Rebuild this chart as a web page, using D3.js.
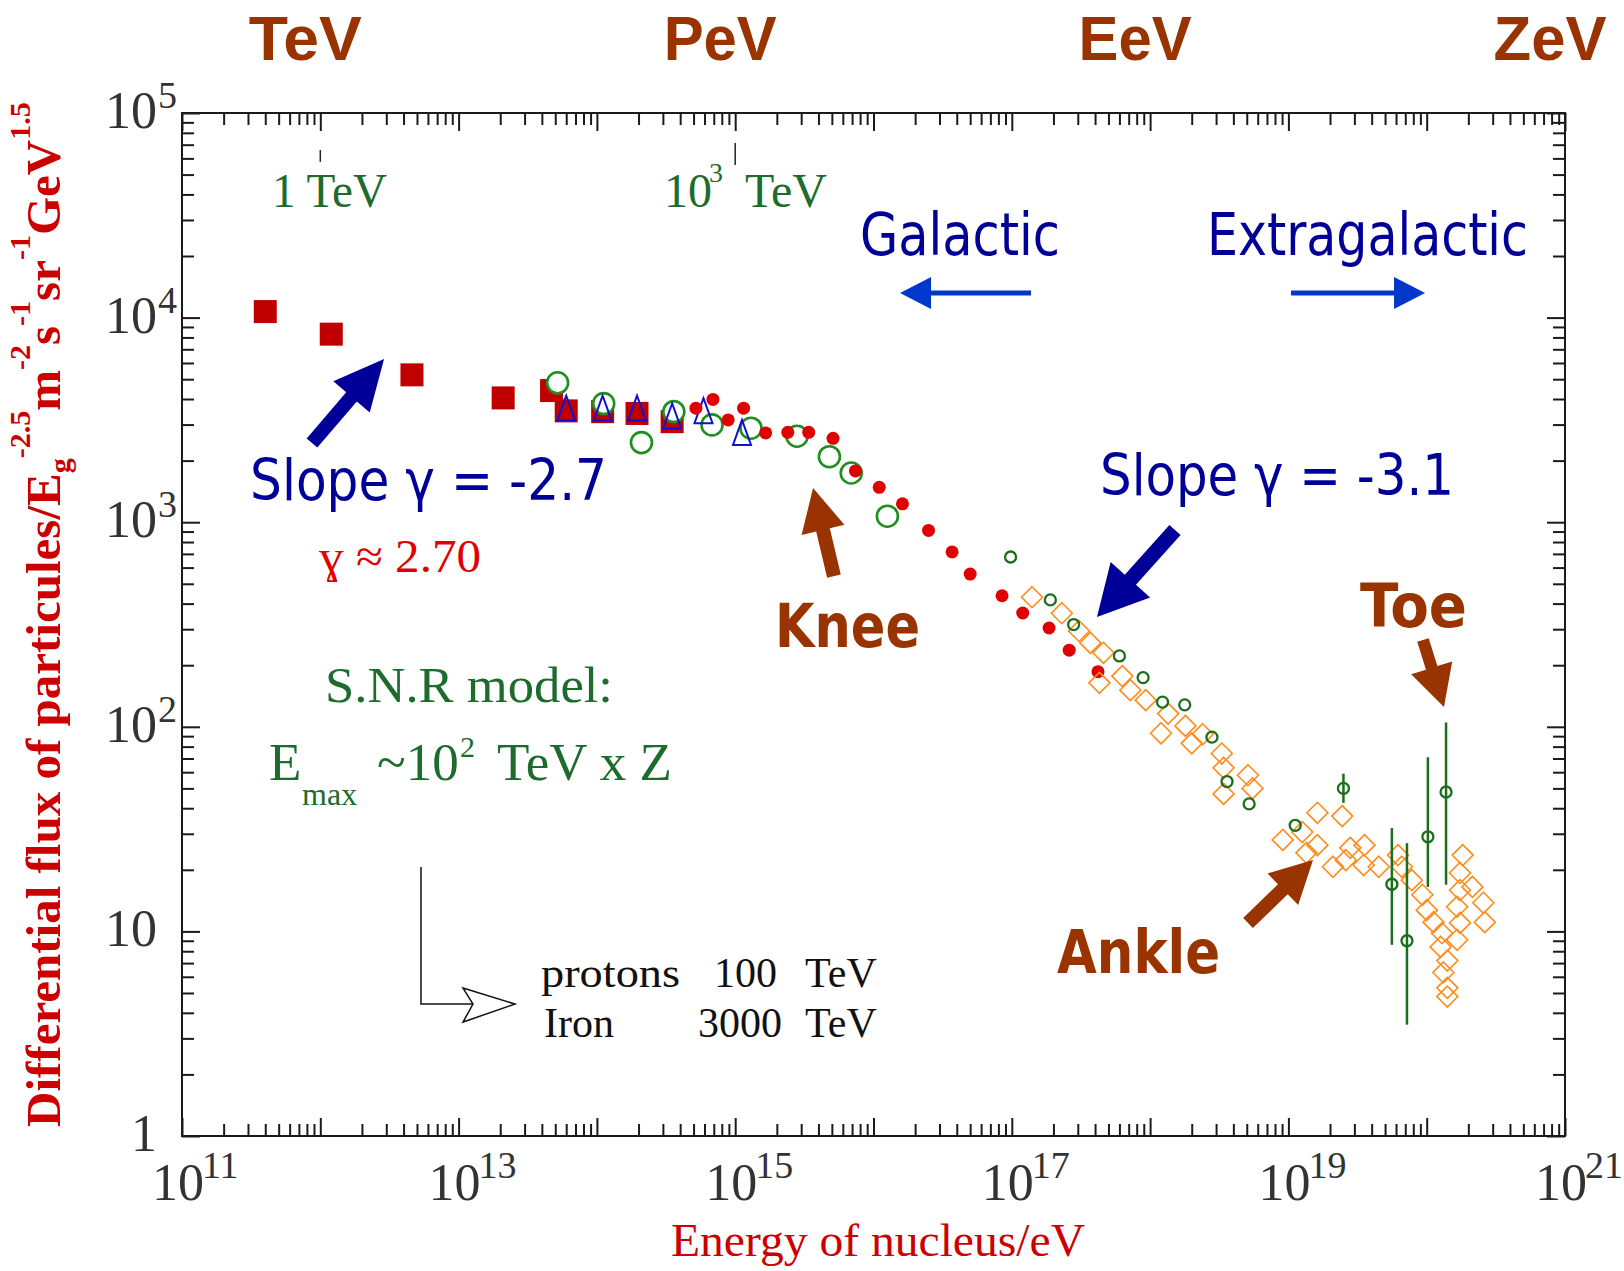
<!DOCTYPE html>
<html>
<head>
<meta charset="utf-8">
<script src="https://cdn.jsdelivr.net/npm/d3@7"></script>
<style>
  body { margin: 0; background: #fff; }
</style>
</head>
<body>
<div id="chart"></div>
<script>
// energies in eV, flux in E^2.5 dN/dE units
const squareE = [4.0e11, 1.2e12, 4.6e12, 2.1e13, 4.7e13, 6.0e13, 1.1e14, 1.95e14, 3.5e14];
const squareF = [10700, 8300, 5250, 4050, 4400, 3500, 3470, 3400, 3100];

const triE = [6.0e13, 1.1e14, 1.95e14, 3.5e14, 5.9e14, 1.12e15];
const triF = [3550, 3550, 3550, 3250, 3450, 2700];

const bigCircE = [5.2e13, 1.12e14, 2.1e14, 3.6e14, 6.8e14, 1.3e15, 2.8e15, 4.8e15, 6.9e15, 1.26e16];
const bigCircF = [4800, 3800, 2450, 3470, 2990, 2880, 2630, 2090, 1740, 1070];

const dotE = [5.2e14, 6.9e14, 8.9e14, 1.15e15, 1.66e15, 2.4e15, 3.4e15, 5.1e15, 7.4e15, 1.1e16,
              1.62e16, 2.5e16, 3.7e16, 5.0e16, 8.5e16, 1.2e17, 1.86e17, 2.6e17, 4.2e17];
const dotF = [3610, 3980, 3160, 3610, 2730, 2750, 2750, 2570, 1780, 1480,
              1230, 912, 716, 558, 437, 360, 304, 237, 186];

const smallCircE = [9.8e16, 1.9e17, 2.8e17, 6.0e17, 8.9e17, 1.23e18, 1.78e18, 2.8e18, 3.6e18, 5.2e18, 1.12e19];
const smallCircF = [676, 417, 316, 222, 174, 132, 128, 89, 54, 42, 33];

const errE  = [2.5e19, 5.6e19, 7.2e19, 1.02e20, 1.38e20];
const errF  = [50, 17, 9.0, 29, 48];
const errLo = [42.5, 8.6, 3.5, 16.5, 16.9];
const errHi = [59, 32, 27, 71, 105];

const diamondE = [1.4e17, 2.3e17, 3.06e17, 3.7e17, 4.6e17, 4.3e17, 6.3e17, 7.2e17, 9.3e17, 1.2e18,
                  1.35e18, 1.8e18, 2.0e18, 2.4e18, 3.3e18, 3.4e18, 3.4e18, 5.1e18, 5.5e18, 9.1e18,
                  1.26e19, 1.35e19, 1.62e19, 1.62e19, 2.1e19, 2.45e19, 2.6e19, 2.8e19, 3.5e19, 3.55e19,
                  4.5e19, 6.2e19, 6.6e19, 7.8e19, 9.3e19, 1.0e20, 1.12e20, 1.29e20, 1.26e20, 1.41e20,
                  1.32e20, 1.41e20, 1.41e20, 1.82e20, 1.74e20, 1.74e20, 1.66e20, 1.74e20, 1.66e20, 2.14e20,
                  2.57e20, 2.63e20];
const diamondF = [430, 359, 294, 257, 230, 164, 177, 151, 135, 93,
                  116, 101, 83, 92, 74, 63, 47, 58, 50, 28,
                  30.6, 24.2, 38, 26.4, 20.7, 36.6, 22.3, 25.6, 21.1, 26.4,
                  20.7, 23.6, 20.7, 17.8, 15.1, 12.7, 11.1, 9.8, 8.4, 7.2,
                  6.3, 5.3, 4.8, 23.6, 19.3, 15.9, 13.2, 11.0, 9.1, 16.5,
                  13.8, 11.1];

const xLabelExps = [11, 13, 15, 17, 19, 21];
const yLabelExps = [0, 1, 2, 3, 4, 5];
const unitNames = ['TeV', 'PeV', 'EeV', 'ZeV'];
const unitE = [1e12, 1e15, 1e18, 1e21];

const W = 1624, H = 1271;
const margin = {left: 182, right: 59, top: 113, bottom: 135};
const serif = "'Liberation Serif', 'Times New Roman', serif";
const sans = "'DejaVu Sans Condensed', 'DejaVu Sans', sans-serif";
const sansB = "'Liberation Sans', Arial, sans-serif";
const brown = '#993300', navy = '#000099', green = '#1d6b2d', red = '#cc0000';

const svg = d3.select('#chart').append('svg').attr('width', W).attr('height', H);

const x = d3.scaleLog().domain([1e11, 1e21]).range([margin.left, W - margin.right]);
const y = d3.scaleLog().domain([1, 1e5]).range([H - margin.bottom, margin.top]);
const px = l => x(Math.pow(10, l));
const py = l => y(Math.pow(10, l));

// ticks: majors every decade, minors 2..9
const majX = d3.range(11, 22).map(e => Math.pow(10, e));
const minX = [];
d3.range(11, 21).forEach(e => { for (let k = 2; k < 10; k++) minX.push(k * Math.pow(10, e)); });
const majY = d3.range(0, 6).map(e => Math.pow(10, e));
const minY = [];
d3.range(0, 5).forEach(e => { for (let k = 2; k < 10; k++) minY.push(k * Math.pow(10, e)); });

function ticks(axisFn, scale, vals, size, tr) {
  svg.append('g').attr('transform', tr)
    .call(axisFn(scale).tickValues(vals).tickSize(size).tickFormat(''))
    .call(g => g.select('.domain').remove())
    .selectAll('line').attr('stroke', '#1a1a1a').attr('stroke-width', 2);
}
const bottomY = H - margin.bottom, rightX = W - margin.right;
ticks(d3.axisTop, x, majX, 18, `translate(0,${bottomY})`);
ticks(d3.axisTop, x, minX, 12, `translate(0,${bottomY})`);
ticks(d3.axisBottom, x, majX, 18, `translate(0,${margin.top})`);
ticks(d3.axisBottom, x, minX, 12, `translate(0,${margin.top})`);
ticks(d3.axisRight, y, majY, 18, `translate(${margin.left},0)`);
ticks(d3.axisRight, y, minY, 12, `translate(${margin.left},0)`);
ticks(d3.axisLeft, y, majY, 18, `translate(${rightX},0)`);
ticks(d3.axisLeft, y, minY, 12, `translate(${rightX},0)`);

svg.append('rect')
  .attr('x', margin.left).attr('y', margin.top)
  .attr('width', rightX - margin.left).attr('height', bottomY - margin.top)
  .attr('fill', 'none').attr('stroke', '#1a1a1a').attr('stroke-width', 2);

function txt(xp, yp, s, size, color, o = {}) {
  const t = svg.append('text').attr('x', xp).attr('y', yp).text(s)
    .attr('font-size', size).attr('fill', color)
    .attr('font-family', o.family || serif)
    .attr('font-weight', o.weight || 'normal')
    .attr('text-anchor', o.anchor || 'start');
  if (o.len) t.attr('textLength', o.len).attr('lengthAdjust', 'spacingAndGlyphs');
  return t;
}
// text made of pieces [string, dx-position or null, dy, size]
function rich(xp, yp, parts, color, o = {}) {
  const t = svg.append('text').attr('x', xp).attr('y', yp)
    .attr('fill', color).attr('font-family', o.family || serif)
    .attr('font-weight', o.weight || 'normal');
  parts.forEach(p => {
    const s = t.append('tspan').text(p[0]).attr('dy', p[2]).attr('font-size', p[3]);
    if (p[1] !== null) s.attr('x', p[1]);
  });
  return t;
}

// axis tick labels
const tickGrey = '#333';
xLabelExps.forEach(e => {
  const xp = x(Math.pow(10, e));
  rich(xp - 30, bottomY + 64, [['10', null, 0, 52], [String(e), xp + 20, -22, 38]], tickGrey);
});
yLabelExps.forEach(e => {
  const yp = y(Math.pow(10, e)) + 15;
  if (e === 0) txt(157, yp, '1', 52, tickGrey, {anchor: 'end'});
  else if (e === 1) txt(157, yp, '10', 52, tickGrey, {anchor: 'end'});
  else rich(105, yp, [['10', null, 0, 52], [String(e), 158, -20, 38]], tickGrey);
});

// energy units on top
unitNames.forEach((n, i) => {
  txt(x(unitE[i]) - 15, 60, n, 63, brown, {family: sansB, weight: 'bold', anchor: 'middle', len: 113});
});

// axis titles
txt(878, 1256, 'Energy of nucleus/eV', 46, red, {anchor: 'middle', len: 414});
const yt = svg.append('text').attr('transform', `translate(60,${bottomY - 9}) rotate(-90)`)
  .attr('font-family', serif).attr('font-weight', 'bold').attr('fill', red);
[['Differential flux of particules/E', 0, 49], ['g', 10, 30], ['-2.5', -40, 30], ['m', 30, 49],
 ['-2', -30, 30], ['s', 30, 49], ['-1', -30, 30], ['sr', 30, 49], ['-1', -30, 30],
 ['GeV', 30, 49], ['1.5', -30, 30]].forEach(p => {
  yt.append('tspan').attr('dy', p[1]).attr('font-size', p[2]).text(p[0]);
});

// data marks
const plot = svg.append('g');
plot.selectAll('.sq').data(squareE).join('rect')
  .attr('x', (d, i) => x(d) - 11.5).attr('y', (d, i) => y(squareF[i]) - 11.5)
  .attr('width', 23).attr('height', 23).attr('fill', '#c00000');
plot.selectAll('.bc').data(bigCircE).join('circle')
  .attr('cx', d => x(d)).attr('cy', (d, i) => y(bigCircF[i])).attr('r', 10.5)
  .attr('fill', '#fff').attr('stroke', '#1f8f1f').attr('stroke-width', 2.6);
plot.selectAll('.tr').data(triE).join('path')
  .attr('d', (d, i) => {
    const cx = x(d), cy = y(triF[i]);
    return `M${cx},${cy - 14}L${cx - 9},${cy + 11}L${cx + 9},${cy + 11}Z`;
  })
  .attr('fill', 'none').attr('stroke', '#1010d0').attr('stroke-width', 2);
plot.selectAll('.dt').data(dotE).join('circle')
  .attr('cx', d => x(d)).attr('cy', (d, i) => y(dotF[i])).attr('r', 6.5).attr('fill', '#e00000');
plot.selectAll('.dm').data(diamondE).join('path')
  .attr('d', (d, i) => {
    const cx = x(d), cy = y(diamondF[i]), r = 10.5;
    return `M${cx},${cy - r}L${cx + r},${cy}L${cx},${cy + r}L${cx - r},${cy}Z`;
  })
  .attr('fill', 'none').attr('stroke', '#ff8c1a').attr('stroke-width', 1.6);
plot.selectAll('.eb').data(errE).join('line')
  .attr('x1', d => x(d)).attr('x2', d => x(d))
  .attr('y1', (d, i) => y(errHi[i])).attr('y2', (d, i) => y(errLo[i]))
  .attr('stroke', '#1b6e1b').attr('stroke-width', 2.5);
plot.selectAll('.sc').data(smallCircE.concat(errE)).join('circle')
  .attr('cx', d => x(d)).attr('cy', (d, i) => y(smallCircF.concat(errF)[i])).attr('r', 5.5)
  .attr('fill', 'none').attr('stroke', '#1b6e1b').attr('stroke-width', 2.3);

// annotations, positioned in log10 data space
function arrow(t, h, shaft, headL, headW, color) {
  const x1 = px(t[0]), y1 = py(t[1]), x2 = px(h[0]), y2 = py(h[1]);
  const len = Math.hypot(x2 - x1, y2 - y1), ux = (x2 - x1) / len, uy = (y2 - y1) / len;
  const nx = -uy, ny = ux, bx = x2 - ux * headL, by = y2 - uy * headL;
  const pts = [[x1 + nx * shaft / 2, y1 + ny * shaft / 2], [bx + nx * shaft / 2, by + ny * shaft / 2],
               [bx + nx * headW / 2, by + ny * headW / 2], [x2, y2],
               [bx - nx * headW / 2, by - ny * headW / 2], [bx - nx * shaft / 2, by - ny * shaft / 2],
               [x1 - nx * shaft / 2, y1 - ny * shaft / 2]];
  svg.append('polygon').attr('points', pts.map(p => p.join(',')).join(' ')).attr('fill', color);
}

// TeV scale marks
[[12, 4.819, 4.761], [15, 4.853, 4.746]].forEach(m => {
  svg.append('line').attr('x1', px(m[0])).attr('x2', px(m[0]))
    .attr('y1', py(m[1])).attr('y2', py(m[2])).attr('stroke', '#222').attr('stroke-width', 1.5);
});
txt(px(11.651), py(4.541), '1 TeV', 48, green, {len: 115});
rich(px(14.485), py(4.541), [['10', null, 0, 48], ['3', px(14.81), -25, 28], ['TeV', px(15.071), 25, 48]], green);

txt(px(15.902), py(4.306), 'Galactic', 59, navy, {family: sans, len: 200});
txt(px(18.411), py(4.306), 'Extragalactic', 59, navy, {family: sans, len: 321});
arrow([17.139, 4.12], [16.192, 4.12], 5, 31, 32, '#0038cc');
arrow([19.019, 4.12], [19.988, 4.12], 5, 31, 32, '#0038cc');

txt(px(11.492), py(3.109), 'Slope \u03b3 = -2.7', 57, navy, {family: sans, len: 357});
txt(px(17.638), py(3.133), 'Slope \u03b3 = -3.1', 57, navy, {family: sans, len: 354});
arrow([11.94, 3.387], [12.461, 3.798], 14, 50, 48, navy);
arrow([18.18, 2.962], [17.616, 2.537], 15, 50, 53, navy);

txt(px(11.991), py(2.757), '\u0263 \u2248 2.70', 46, '#e00000', {len: 162});

txt(px(15.288), py(2.39), 'Knee', 60, brown, {family: sans, weight: 'bold', len: 145});
arrow([15.714, 2.737], [15.563, 3.167], 14, 43, 44, brown);
txt(px(19.518), py(2.488), 'Toe', 60, brown, {family: sans, weight: 'bold', len: 107});
arrow([19.973, 2.424], [20.125, 2.097], 12, 41, 43, brown);
txt(px(17.327), py(0.797), 'Ankle', 60, brown, {family: sans, weight: 'bold', len: 163});
arrow([18.708, 1.041], [19.178, 1.349], 14, 42, 44, brown);

txt(px(12.034), py(2.121), 'S.N.R  model:', 50, green, {len: 288});
rich(px(11.629), py(1.74), [['E', null, 0, 53], ['max', px(11.868), 25, 32], ['~10', px(12.41), -25, 53],
  ['2', px(13.01), -23, 30], ['TeV x Z', px(13.278), 23, 53]], green);

// bent arrow to the knee energies
svg.append('path')
  .attr('d', `M${px(12.728)},${py(1.315)}V${py(0.645)}H${px(13.104)}`)
  .attr('fill', 'none').attr('stroke', '#111').attr('stroke-width', 1.5);
svg.append('path')
  .attr('d', `M${px(13.032)},${py(0.723)}L${px(13.408)},${py(0.645)}L${px(13.032)},${py(0.557)}L${px(13.104)},${py(0.645)}Z`)
  .attr('fill', '#fff').attr('stroke', '#111').attr('stroke-width', 1.5);
txt(px(13.596), py(0.728), 'protons', 42, '#111', {len: 139});
txt(px(14.847), py(0.728), '100', 42, '#111');
txt(px(15.505), py(0.728), 'TeV', 42, '#111');
txt(px(13.618), py(0.484), 'Iron', 42, '#111');
txt(px(14.731), py(0.484), '3000', 42, '#111');
txt(px(15.505), py(0.484), 'TeV', 42, '#111');
</script>
</body>
</html>
